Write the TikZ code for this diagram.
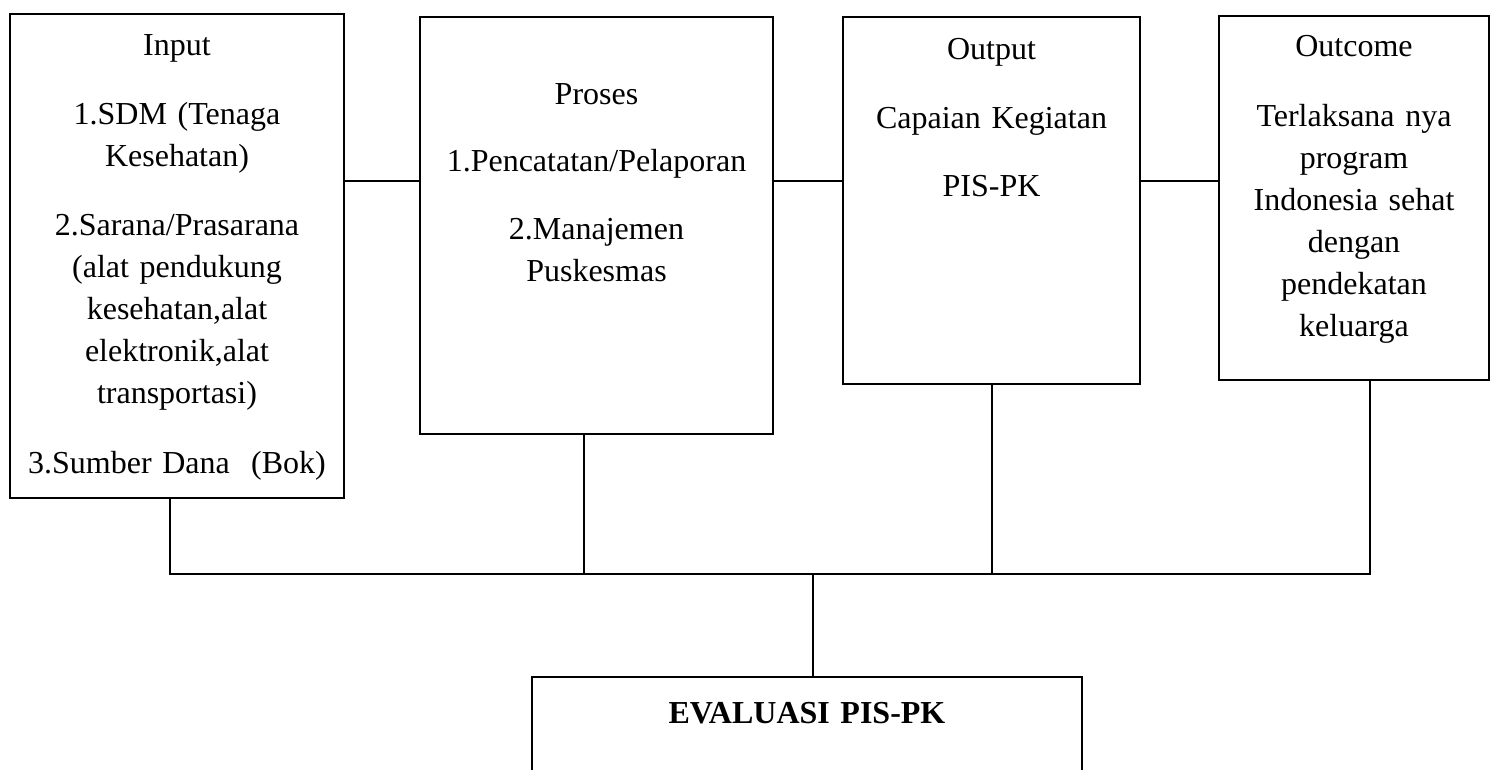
\documentclass[tikz,border=0pt]{standalone}
\usepackage{fontspec}
\setmainfont{Liberation Serif}
\usepackage{tikz}
\tikzset{
    % gaya kotak
    kotak/.style={
           rectangle,
           draw=black, line width=2pt,
           inner sep=0pt,
           anchor=north west,
           align=center,
           font=\fontsize{32}{42}\selectfont},
    % gaya garis
    garis/.style={
           -,
           line width=2pt}
}
\begin{document}
\begin{tikzpicture}[x=1pt, y=-1pt]
	\useasboundingbox (0,0) rectangle (1496,769);
	\clip (0,0) rectangle (1496,769);
	%
	% kotak
	%
	\node[kotak, minimum width=334pt, text width=320pt, text height=41pt, text depth=443pt] (input) at (9,13)
		{Input\\[27pt]1.SDM (Tenaga\\Kesehatan)\\[27pt]2.Sarana/Prasarana\\(alat pendukung\\kesehatan,alat\\elektronik,alat\\transportasi)\\[28pt]3.Sumber Dana~~(Bok)};
	\node[kotak, minimum width=353pt, text width=340pt, text height=87pt, text depth=330pt] (proses) at (419,16)
		{Proses\\[25pt]1.Pencatatan/Pelaporan\\[26pt]2.Manajemen\\Puskesmas};
	\node[kotak, minimum width=297pt, text width=285pt, text height=42pt, text depth=325pt] (output) at (842,16)
		{Output\\[27pt]Capaian Kegiatan\\[26pt]PIS-PK};
	\node[kotak, minimum width=270pt, text width=260pt, text height=40pt, text depth=324pt] (outcome) at (1218,15)
		{Outcome\\[28pt]Terlaksana nya\\program\\Indonesia sehat\\dengan\\pendekatan\\keluarga};
	\node[kotak, minimum width=550pt, text width=530pt, text height=46pt, text depth=94pt] (evaluasi) at (531,676)
		{\textbf{EVALUASI PIS-PK}};
	%
	% garis
	%
	\coordinate (hy) at (0,181);
	\coordinate (bus) at (0,574);
	\coordinate (inS) at ([xshift=-7pt]input.south);
	\coordinate (prS) at ([xshift=-12.5pt]proses.south);
	\coordinate (ouS) at ([xshift=16pt]outcome.south);
	\coordinate (evN) at ([xshift=6pt]evaluasi.north);
	\draw[garis] (input.east |- hy) -- (proses.west |- hy);
	\draw[garis] (proses.east |- hy) -- (output.west |- hy);
	\draw[garis] (output.east |- hy) -- (outcome.west |- hy);
	\draw[garis] (inS) |- (ouS |- bus) -- (ouS);
	\draw[garis] (prS) -- (prS |- bus);
	\draw[garis] (output.south) -- (output.south |- bus);
	\draw[garis] (evN) -- (evN |- bus);
\end{tikzpicture}
\end{document}
